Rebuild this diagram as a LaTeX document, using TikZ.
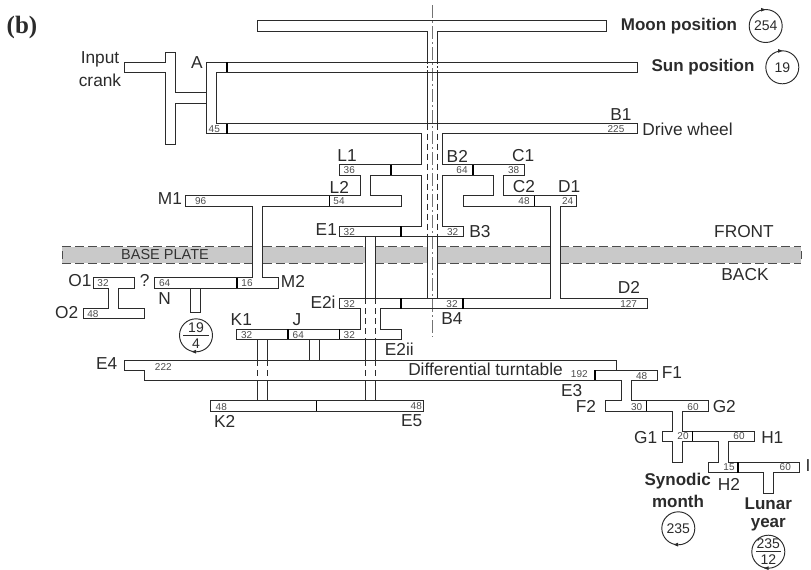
\documentclass[tikz,border=0pt]{standalone}
\usepackage{fontspec}
\setmainfont{Liberation Sans}
\newfontfamily\serifb{Liberation Serif}
\definecolor{ink}{HTML}{2B2B2B}
\tikzset{
  part/.style={draw=ink,line width=0.95pt,line join=miter},
  tickmark/.style={draw=black,line width=1.5pt},
  dashshaft/.style={draw=ink,line width=0.95pt,dash pattern=on 6pt off 4pt},
  dotshaft/.style={draw=ink,line width=0.95pt,dash pattern=on 2pt off 2pt},
  axisline/.style={draw=black!55,line width=0.9pt,dash pattern=on 13pt off 3pt on 2pt off 3pt},
  platefill/.style={fill=black!21,draw=none},
  plateedge/.style={draw=black!70,line width=1pt,dash pattern=on 9pt off 4pt},
  lab/.style={inner sep=0pt,text=ink,font=\fontsize{17.3}{20}\selectfont},
  num/.style={inner sep=0pt,text=black!70,font=\fontsize{10}{12}\selectfont},
  bold/.style={inner sep=0pt,text=ink,font=\fontsize{17}{20}\selectfont\bfseries},
  ratio/.style={circle,draw=ink,line width=0.95pt,minimum size=33pt,inner sep=0pt,text=ink,font=\fontsize{14}{16}\selectfont},
  fracnum/.style={inner sep=0pt,text=ink,font=\fontsize{14}{16}\selectfont},
  whead/.style={fill=ink,draw=none}
}
\begin{document}
\begin{tikzpicture}[x=1pt,y=-1pt]
\useasboundingbox (0,0) rectangle (811,570);
% base plate
\fill[platefill] (62,246.7) rectangle (801,263.3);
\foreach \a/\b in {252.7/262.7,365/375.3,427/437,550/560}{\fill[white] (\a,246) rectangle (\b,264);}
\draw[plateedge] (62,246.7) -- (252.7,246.7) (262.7,246.7) -- (365,246.7) (375.3,246.7) -- (427,246.7) (437,246.7) -- (550,246.7) (560,246.7) -- (801,246.7);
\draw[plateedge] (62,263.3) -- (252.7,263.3) (262.7,263.3) -- (365,263.3) (375.3,263.3) -- (427,263.3) (437,263.3) -- (550,263.3) (560,263.3) -- (801,263.3);
\draw[draw=black!70,line width=1pt] (62,251) -- (62,259) (801,251) -- (801,259);
% centre line
\draw[axisline] (432,5) -- (432,337);
% input crank
\draw[part] (206,92.5) -- (175,92.5) -- (175,52) -- (165,52) -- (165,62) -- (124,62) -- (124,72) -- (165,72) -- (165,144) -- (175,144) -- (175,103) -- (206,103);
% moon bar and its shaft
\draw[part] (427,62) -- (427,31) -- (257,31) -- (257,20.5) -- (606,20.5) -- (606,31) -- (437,31) -- (437,62);
\draw[dotshaft] (427,62) -- (427,72) (437,62) -- (437,72);
\draw[part] (427,72) -- (427,123.5) (437,72) -- (437,123.5);
\draw[dashshaft] (427,123.5) -- (427,236.7) (437,123.5) -- (437,236.7);
\draw[part] (427,236.7) -- (427,298) (437,236.7) -- (437,298);
% main train
\draw[part] (206,133.5) -- (206,62) -- (637,62) -- (637,72) -- (216,72) -- (216,123.5) -- (637,123.5) -- (637,133.5) -- (442.3,133.5) -- (442.3,164.5) -- (524.7,164.5) -- (524.7,175) -- (503.7,175) -- (503.7,195.5) -- (576,195.5) -- (576,206) -- (560,206) -- (560,298) -- (647.5,298) -- (647.5,308.7) -- (380.7,308.7) -- (380.7,329.3) -- (401.7,329.3) -- (401.7,339.3) -- (236.7,339.3) -- (236.7,329.3) -- (360,329.3) -- (360,308.7) -- (339.5,308.7) -- (339.5,298) -- (550,298) -- (550,206) -- (463,206) -- (463,195.5) -- (493.3,195.5) -- (493.3,175) -- (442.3,175) -- (442.3,226.3) -- (463,226.3) -- (463,236.7) -- (339.5,236.7) -- (339.5,226.3) -- (421.7,226.3) -- (421.7,175) -- (370.5,175) -- (370.5,195.5) -- (401,195.5) -- (401,206) -- (262.7,206) -- (262.7,277.7) -- (278,277.7) -- (278,288) -- (154.7,288) -- (154.7,277.7) -- (252.7,277.7) -- (252.7,206) -- (185.7,206) -- (185.7,195.5) -- (360,195.5) -- (360,175) -- (339.5,175) -- (339.5,164.5) -- (421.7,164.5) -- (421.7,133.5) -- cycle;
% E1 - E5 arbor
\draw[part] (365,236.7) -- (365,298) (375.3,236.7) -- (375.3,298);
\draw[dashshaft] (365,298) -- (365,339.3) (375.3,298) -- (375.3,339.3);
\draw[part] (365,339.3) -- (365,360) (375.3,339.3) -- (375.3,360);
\draw[dashshaft] (365,360) -- (365,380.3) (375.3,360) -- (375.3,380.3);
\draw[part] (365,380.3) -- (365,400.7) (375.3,380.3) -- (375.3,400.7);
% K arbor
\draw[part] (257.7,339.3) -- (257.7,360) (267.7,339.3) -- (267.7,360);
\draw[dashshaft] (257.7,360) -- (257.7,380.3) (267.7,360) -- (267.7,380.3);
\draw[part] (257.7,380.3) -- (257.7,400.7) (267.7,380.3) -- (267.7,400.7);
% J stub
\draw[part] (309,339.3) -- (309,360) (319,339.3) -- (319,360);
% K2 - E5
\draw[part] (210.3,400.7) rectangle (423.7,411);
% E4 and epicyclic train
\draw[part] (124,360) -- (616.7,360) -- (616.7,370) -- (657,370) -- (657,380) -- (631,380) -- (631,400.7) -- (708.3,400.7) -- (708.3,411) -- (682,411) -- (682,431) -- (754,431) -- (754,441.3) -- (728.7,441.3) -- (728.7,462.3) -- (799.7,462.3) -- (799.7,472.7) -- (773,472.7) -- (773,493) -- (763,493) -- (763,472.7) -- (708,472.7) -- (708,462.3) -- (718,462.3) -- (718,441.3) -- (682,441.3) -- (682,462.3) -- (672,462.3) -- (672,441.3) -- (662,441.3) -- (662,431) -- (672,431) -- (672,411) -- (605.3,411) -- (605.3,400.7) -- (621,400.7) -- (621,380) -- (144.7,380) -- (144.7,370) -- (124,370) -- cycle;
\draw[part] (595,370) -- (616.7,370);
% O1 O2
\draw[part] (93.3,277.7) -- (134.7,277.7) -- (134.7,288) -- (118.7,288) -- (118.7,308.3) -- (144.7,308.3) -- (144.7,318.7) -- (83,318.7) -- (83,308.3) -- (108.7,308.3) -- (108.7,288) -- (93.3,288) -- cycle;
% N stub
\draw[part] (190.7,288) rectangle (200.7,312.7);
% ticks
\foreach \x/\ya/\yb in {227/62/72,227/123.5/133.5,391/164.5/175,473/164.5/175,329.3/195.5/206,534.7/195.5/206,401/226.3/236.7,237/277.7/288,401/298/308.7,463/298/308.7,288/329.3/339.3,339.3/329.3/339.3,316.7/400.7/411,595/370/380,646.7/400.7/411,692.7/431/441.3,738/462.3/472.7}{\draw[tickmark] (\x,\ya) -- (\x,\yb);}
% labels
\node[inner sep=0pt,text=ink,font=\fontsize{25}{27}\selectfont\serifb\bfseries] (lb) at (22,27) {(b)};
\node[lab] (input) at (100,59) {Input};
\node[lab] (crank) at (100,80) {crank};
\node[lab] (lA) at (197,63) {A};
\node[bold] (moon) at (679,26) {Moon position};
\node[bold] (sun) at (703,67) {Sun position};
\node[lab] (B1) at (621,115) {B1};
\node[lab] (drive) at (687.5,129) {Drive wheel};
\node[lab] (L1) at (347,156) {L1};
\node[lab] (B2) at (457.3,156) {B2};
\node[lab] (C1) at (523.3,156) {C1};
\node[lab] (L2) at (339.3,187) {L2};
\node[lab] (C2) at (524,187) {C2};
\node[lab] (D1) at (569.3,187) {D1};
\node[lab] (M1) at (170,199) {M1};
\node[lab] (E1) at (326.3,230) {E1};
\node[lab] (B3) at (480,231.7) {B3};
\node[lab,text=black!80,font=\fontsize{14.5}{17}\selectfont] (plate) at (165,255) {BASE PLATE};
\node[lab] (front) at (744,232) {FRONT};
\node[lab] (back) at (745,275) {BACK};
\node[lab] (O1) at (80,281) {O1};
\node[lab] (qm) at (144.7,280.7) {?};
\node[lab] (M2) at (293,281) {M2};
\node[lab] (N) at (164.7,298.3) {N};
\node[lab] (O2) at (66.7,312.3) {O2};
\node[lab] (K1) at (241.3,320) {K1};
\node[lab] (J) at (297,320) {J};
\node[lab] (E2i) at (323,302.3) {E2i};
\node[lab] (B4) at (452,319) {B4};
\node[lab] (D2) at (629,287.3) {D2};
\node[lab] (E2ii) at (399.3,349.3) {E2ii};
\node[lab] (E4) at (106.7,363.3) {E4};
\node[lab] (diff) at (485.5,369.3) {Differential turntable};
\node[lab] (K2) at (224.7,421) {K2};
\node[lab] (E5) at (411.7,421) {E5};
\node[lab] (F1) at (672,372.7) {F1};
\node[lab] (E3) at (571.7,390.7) {E3};
\node[lab] (F2) at (586,406.7) {F2};
\node[lab] (G2) at (724.3,406.7) {G2};
\node[lab] (G1) at (645.7,437.3) {G1};
\node[lab] (H1) at (772.3,437.3) {H1};
\node[lab] (lI) at (808,465.7) {I};
\node[lab] (H2) at (729,484.3) {H2};
\node[bold] (syn) at (677.7,480.7) {Synodic};
\node[bold] (mon) at (678,501.3) {month};
\node[bold] (lun) at (768.3,503.3) {Lunar};
\node[bold] (yea) at (768.3,525) {year};
% tooth counts
\foreach \t/\x/\y in {225/616/128.7,45/214.3/129,36/349.3/170,64/462/170,38/513.7/170,96/200.7/200.7,54/339/200.7,48/524/200.7,24/567.7/200.7,32/349.3/231.7,32/452.7/231.7,32/103/282.7,64/164.7/282.7,16/247/282.7,48/93/313.7,32/349.3/303.7,32/452/303.7,127/628.7/303.7,32/246.7/334.7,64/298.3/334.7,32/349.3/334.7,222/163.3/366.7,48/221.3/406.7,48/416.3/405.7,192/579.3/374.3,48/641.7/376,30/636.7/406.7,60/693/406.7,20/683/436.3,60/739/436.3,15/729/467.3,60/785.3/467.3}{\node[num] at (\x,\y) {\t};}
% ratio circles
\node[ratio] (c254) at (765.7,26) {254};
\node[ratio] (c19) at (782.3,67.3) {19};
\node[ratio] (c235) at (678.3,528.3) {235};
\node[ratio] (cf1) at (196,335.3) {};
\node[fracnum] (f1a) at (196,327.5) {19};
\node[fracnum] (f1b) at (196,343.5) {4};
\coordinate (f1l) at (183,335.3); \coordinate (f1r) at (209,335.3);
\draw[draw=ink,line width=0.8pt] (f1l) -- (f1r);
\node[ratio] (cf2) at (768.3,551.7) {};
\node[fracnum] (f2a) at (768.3,544) {235};
\node[fracnum] (f2b) at (768.3,559.5) {12};
\coordinate (f2l) at (756,551.7); \coordinate (f2r) at (780.5,551.7);
\draw[draw=ink,line width=0.8pt] (f2l) -- (f2r);
% direction marks
\fill[whead] (761,7.8) -- (765.5,9.7) -- (761,11.6) -- cycle;
\fill[whead] (778,49) -- (782.5,50.9) -- (778,52.8) -- cycle;
\fill[whead] (673.5,544.6) -- (678,542.7) -- (678,546.5) -- cycle;
\fill[whead] (191.5,351.7) -- (196,349.8) -- (196,353.6) -- cycle;
\fill[whead] (764,568.2) -- (768.5,566.3) -- (768.5,570) -- cycle;
\end{tikzpicture}
\end{document}
